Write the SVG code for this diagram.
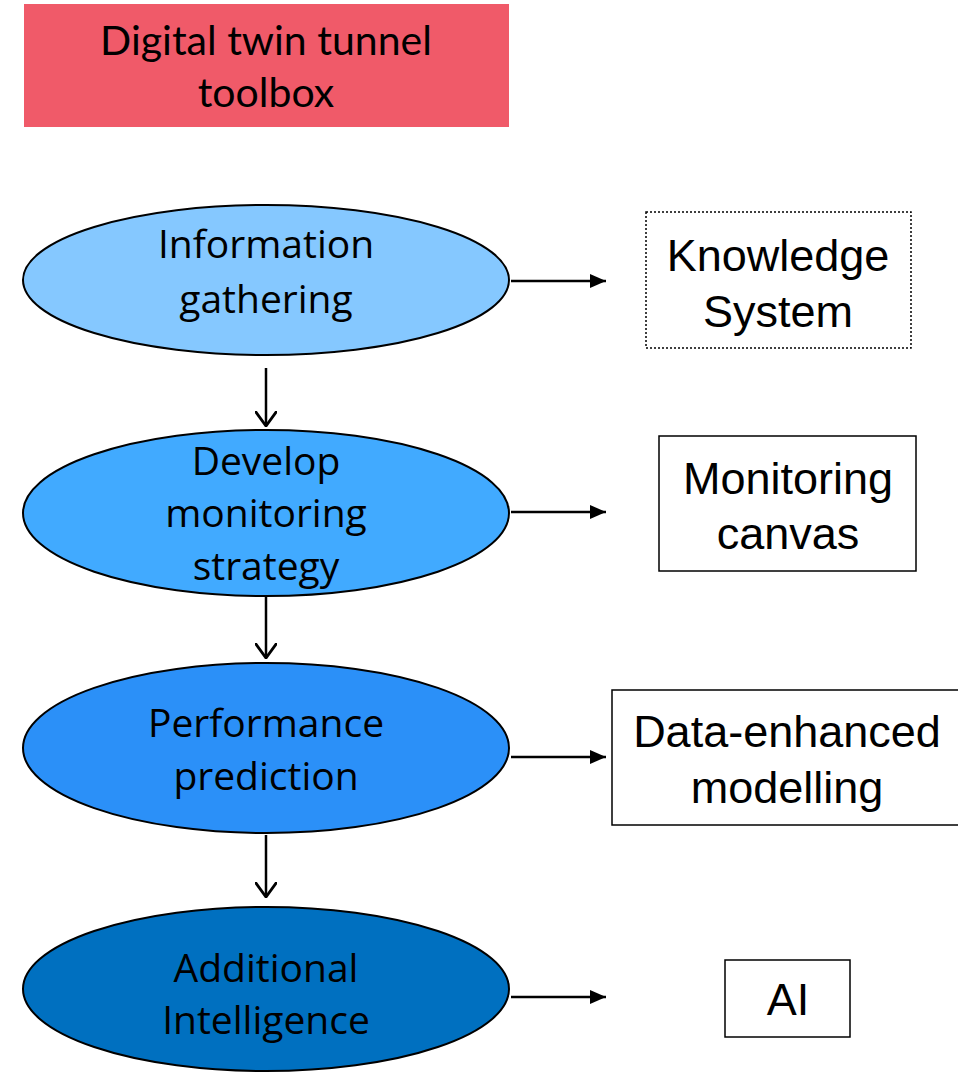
<svg xmlns="http://www.w3.org/2000/svg" width="958" height="1072" viewBox="0 0 958 1072">
<style>
.el{stroke:#000;stroke-width:2}
.et{font-family:"Open Sans","Noto Sans",sans-serif;font-size:39px;fill:#000;text-anchor:middle}
.bt{font-family:"Liberation Sans",Arial,sans-serif;font-size:45px;fill:#000;text-anchor:middle}
.box{fill:#fff;stroke:#000;stroke-width:1.5}
.c{stroke:#000;stroke-width:2.5;fill:none}
</style>
<defs>
<marker id="ah" viewBox="0 0 10 10" refX="10" refY="5" markerWidth="16" markerHeight="14" markerUnits="userSpaceOnUse" orient="auto" preserveAspectRatio="none">
<path d="M0,0 L10,5 L0,10 z" fill="#000"/>
</marker>
<marker id="va" viewBox="0 0 10 10" refX="9.5" refY="5" markerWidth="16" markerHeight="22" markerUnits="userSpaceOnUse" orient="auto" preserveAspectRatio="none">
<path d="M0,0 L9.5,5 L0,10" fill="none" stroke="#000" stroke-width="1.4"/>
</marker>
</defs>
<g id="title">
<rect x="24" y="4" width="485" height="123" fill="#F05A69"/>
<text x="266" y="55" font-family="Lato,'Open Sans',sans-serif" font-size="41" text-anchor="middle">Digital twin tunnel</text>
<text x="266" y="107" font-family="Lato,'Open Sans',sans-serif" font-size="41" text-anchor="middle">toolbox</text>
</g>
<g id="n1">
<ellipse class="el" cx="266" cy="280" rx="243" ry="75" fill="#85C8FF"/>
<text class="et" x="266" y="258">Information</text>
<text class="et" x="266" y="313">gathering</text>
</g>
<g id="n2">
<ellipse class="el" cx="266" cy="513" rx="243" ry="83" fill="#41AAFF"/>
<text class="et" x="266" y="475">Develop</text>
<text class="et" x="266" y="527">monitoring</text>
<text class="et" x="266" y="580">strategy</text>
</g>
<g id="n3">
<ellipse class="el" cx="266" cy="748" rx="243" ry="85" fill="#2B90F8"/>
<text class="et" x="266" y="737">Performance</text>
<text class="et" x="266" y="790">prediction</text>
</g>
<g id="n4">
<ellipse class="el" cx="266" cy="989" rx="243" ry="82" fill="#0070C0"/>
<text class="et" x="266" y="982">Additional</text>
<text class="et" x="266" y="1034">Intelligence</text>
</g>
<g id="b1">
<rect x="646" y="212" width="265" height="136" fill="#fff" stroke="#000" stroke-width="1.5" stroke-dasharray="2,2"/>
<text class="bt" x="778" y="271">Knowledge</text>
<text class="bt" x="778" y="327">System</text>
</g>
<g id="b2">
<rect class="box" x="659" y="436" width="257" height="135"/>
<text class="bt" x="788" y="494">Monitoring</text>
<text class="bt" x="788" y="549">canvas</text>
</g>
<g id="b3">
<rect class="box" x="612" y="690" width="348" height="135"/>
<text class="bt" x="787" y="747">Data-enhanced</text>
<text class="bt" x="787" y="803">modelling</text>
</g>
<g id="b4">
<rect class="box" x="725" y="960" width="125" height="77"/>
<text class="bt" x="788" y="1015">AI</text>
</g>
<g id="connectors">
<line class="c" x1="511" y1="281" x2="606" y2="281" marker-end="url(#ah)" stroke-width="2"/>
<line class="c" x1="511" y1="512" x2="606" y2="512" marker-end="url(#ah)" stroke-width="2"/>
<line class="c" x1="511" y1="757" x2="606" y2="757" marker-end="url(#ah)" stroke-width="2"/>
<line class="c" x1="511" y1="997" x2="606" y2="997" marker-end="url(#ah)" stroke-width="2"/>
<line class="c" x1="266" y1="368" x2="266" y2="426" marker-end="url(#va)"/>
<line class="c" x1="266" y1="597" x2="266" y2="658" marker-end="url(#va)"/>
<line class="c" x1="266" y1="835" x2="266" y2="897" marker-end="url(#va)"/>
</g>
</svg>
